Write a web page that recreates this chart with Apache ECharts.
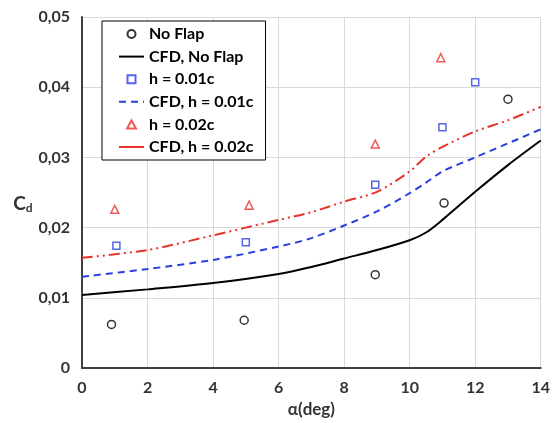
<!DOCTYPE html>
<html>
<head>
<meta charset="utf-8">
<script src="https://cdn.jsdelivr.net/npm/echarts@6/dist/echarts.min.js"></script>
<style>
  html, body { margin: 0; padding: 0; background: #fff; }
  #chart { width: 553px; height: 423px; }
</style>
</head>
<body>
<div id="chart"></div>
<script>
// experimental points [alpha, Cd]
const noFlap = [[0.9, 0.0062], [4.95, 0.0068], [8.95, 0.0133], [11.05, 0.0235], [13, 0.0383]];
const flap01 = [[1.05, 0.0174], [5, 0.0179], [8.95, 0.0261], [11, 0.0343], [12, 0.0407]];
const flap02 = [[1, 0.0226], [5.1, 0.0232], [8.95, 0.0319], [10.95, 0.0442]];

// CFD curves
const cfdAlpha = [0, 2, 4, 6, 7, 8, 9, 10, 10.5, 11, 12, 13, 14];
const cfdNoFlap = [0.0104, 0.0112, 0.0121, 0.0134, 0.0144, 0.0156, 0.0168, 0.0182, 0.0193, 0.0211, 0.0251, 0.0289, 0.0324];
const cfd01 = [0.0130, 0.0141, 0.0154, 0.0173, 0.0185, 0.0203, 0.0223, 0.0249, 0.0264, 0.0280, 0.0300, 0.0320, 0.0340];
const cfd02 = [0.0157, 0.0168, 0.0189, 0.0211, 0.0222, 0.0237, 0.0251, 0.0280, 0.0301, 0.0315, 0.0337, 0.0353, 0.0372];

const seriesNames = ['No Flap', 'CFD, No Flap', 'h = 0.01c', 'CFD, h = 0.01c', 'h = 0.02c', 'CFD, h = 0.02c'];

const BLUE = '#2a3fe0';
const RED = '#e8332b';
const FONT = 'Lato';

const SQUARE = 'path://M0,0H10V10H0Z';
const TRIANGLE = 'path://M5,0L10,9H0Z';

const zip = (xs, ys) => xs.map((x, i) => [x, ys[i]]);

const chart = echarts.init(document.getElementById('chart'));

// line entries: hide the marker, keep only the line
const hideDot = { opacity: 0 };

chart.setOption({
    animation: false,
    textStyle: { fontFamily: FONT },
    grid: { left: 82, right: 10, top: 17, bottom: 55 },
    legend: {
        orient: 'vertical',
        left: 102,
        top: 21,
        data: [
            { name: seriesNames[0], icon: 'circle' },
            { name: seriesNames[1], itemStyle: hideDot },
            { name: seriesNames[2], icon: SQUARE },
            { name: seriesNames[3], itemStyle: hideDot },
            { name: seriesNames[4], icon: TRIANGLE },
            { name: seriesNames[5], itemStyle: hideDot, lineStyle: { type: 'solid' } }
        ],
        itemWidth: 25,
        itemHeight: 8,
        itemGap: 6.6,
        symbolKeepAspect: true,
        padding: [5, 12, 5, 16],
        borderColor: '#000',
        borderWidth: 1,
        backgroundColor: '#fff',
        textStyle: { fontFamily: FONT, fontWeight: 'bold', fontSize: 16, color: '#000' }
    },
    xAxis: {
        type: 'value',
        min: 0,
        max: 14,
        interval: 2,
        name: 'α(deg)',
        nameLocation: 'middle',
        nameGap: 31,
        nameTextStyle: { fontFamily: FONT, fontWeight: 'bold', fontSize: 17, color: '#333' },
        axisLine: { lineStyle: { color: '#404040', width: 2 } },
        axisTick: { show: false },
        axisLabel: { margin: 12, fontFamily: FONT, fontWeight: 'bold', fontSize: 16, color: '#333' },
        splitLine: { lineStyle: { color: '#d9d9d9', width: 1 } }
    },
    yAxis: {
        type: 'value',
        min: 0,
        max: 0.05,
        interval: 0.01,
        name: '{c|C}{d|d}',
        nameLocation: 'middle',
        nameRotate: 0,
        nameGap: 40,
        nameTextStyle: {
            rich: {
                c: { fontFamily: FONT, fontWeight: 'bold', fontSize: 19, color: '#333', padding: [22, 0, 0, 0] },
                d: { fontFamily: FONT, fontWeight: 'bold', fontSize: 12, color: '#333', padding: [32, 0, 0, 0] }
            }
        },
        axisLine: { show: true, lineStyle: { color: '#404040', width: 2 } },
        axisTick: { show: false },
        axisLabel: {
            margin: 12,
            fontFamily: FONT, fontWeight: 'bold', fontSize: 16, color: '#333',
            formatter: v => v === 0 ? '0' : v.toFixed(2).replace('.', ',')
        },
        splitLine: { lineStyle: { color: '#d9d9d9', width: 1 } }
    },
    series: [
        {
            name: 'No Flap', type: 'scatter', data: noFlap,
            symbol: 'circle', symbolSize: 8,
            itemStyle: { color: '#fff', borderColor: '#000', borderWidth: 1.5 }, z: 5
        },
        {
            name: 'CFD, No Flap', type: 'line', data: zip(cfdAlpha, cfdNoFlap),
            smooth: 0.3, showSymbol: false, symbol: 'none',
            lineStyle: { color: '#000', width: 2 }, itemStyle: { color: '#000' }
        },
        {
            name: 'h = 0.01c', type: 'scatter', data: flap01,
            symbol: 'rect', symbolSize: 7,
            itemStyle: { color: '#fff', borderColor: BLUE, borderWidth: 1.5 }, z: 5
        },
        {
            name: 'CFD, h = 0.01c', type: 'line', data: zip(cfdAlpha, cfd01),
            smooth: 0.3, showSymbol: false, symbol: 'none',
            lineStyle: { color: BLUE, width: 2, type: [7, 5] }, itemStyle: { color: BLUE }
        },
        {
            name: 'h = 0.02c', type: 'scatter', data: flap02,
            symbol: 'triangle', symbolSize: 8,
            itemStyle: { color: '#fff', borderColor: RED, borderWidth: 1.5 }, z: 5
        },
        {
            name: 'CFD, h = 0.02c', type: 'line', data: zip(cfdAlpha, cfd02),
            smooth: 0.3, showSymbol: false, symbol: 'none',
            lineStyle: { color: RED, width: 2, type: [11, 4, 2, 4, 2, 4] }, itemStyle: { color: RED }
        }
    ]
});
</script>
</body>
</html>
